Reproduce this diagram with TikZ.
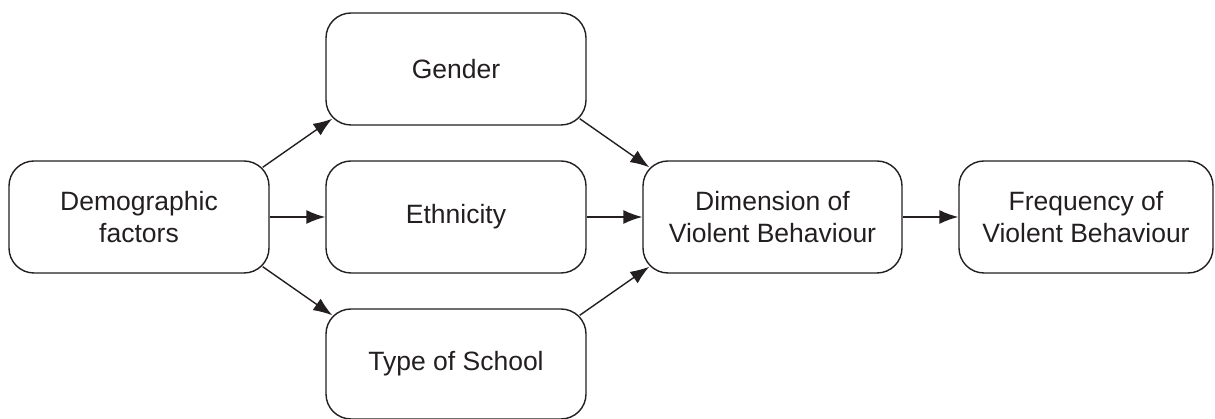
\documentclass[tikz,border=0pt]{standalone}
\usepackage{fontspec}
\setmainfont{Liberation Sans}
\usetikzlibrary{arrows.meta}
\definecolor{ink}{HTML}{231F20}
\tikzset{
  box/.style={draw=ink, line width=1.4pt, rounded corners=25pt, inner sep=0pt,
    minimum width=260pt, minimum height=112pt, align=center, text=ink,
    font=\fontsize{26.5}{32}\selectfont},
  conn/.style={draw=ink, line width=1.4pt, -{Latex[length=19pt,width=14pt]}}
}
\begin{document}
\begin{tikzpicture}[x=1pt,y=1pt]
\useasboundingbox (0,0) rectangle (1215,419);
\node[box] (dem) at (139,202) {Demographic\\factors};
\node[box] (gen) at (456,350) {Gender};
\node[box] (eth) at (456,202) {Ethnicity};
\node[box, minimum height=110pt] (sch) at (456,55) {Type of School};
\node[box, minimum width=259pt] (dim) at (772.5,202) {Dimension of\\Violent Behaviour};
\node[box, minimum width=254pt] (fre) at (1086,202) {Frequency of\\Violent Behaviour};
\draw[conn] ([shift={(-7pt,-7pt)}]dem.north east) -- ([shift={(7pt,7pt)}]gen.south west);
\draw[conn] (dem.east) -- (eth.west);
\draw[conn] ([shift={(-7pt,7pt)}]dem.south east) -- ([shift={(7pt,-7pt)}]sch.north west);
\draw[conn] ([shift={(-7pt,7pt)}]gen.south east) -- ([shift={(7pt,-7pt)}]dim.north west);
\draw[conn] (eth.east) -- (dim.west);
\draw[conn] ([shift={(-7pt,-7pt)}]sch.north east) -- ([shift={(7pt,7pt)}]dim.south west);
\draw[conn] (dim.east) -- (fre.west);
\end{tikzpicture}
\end{document}
